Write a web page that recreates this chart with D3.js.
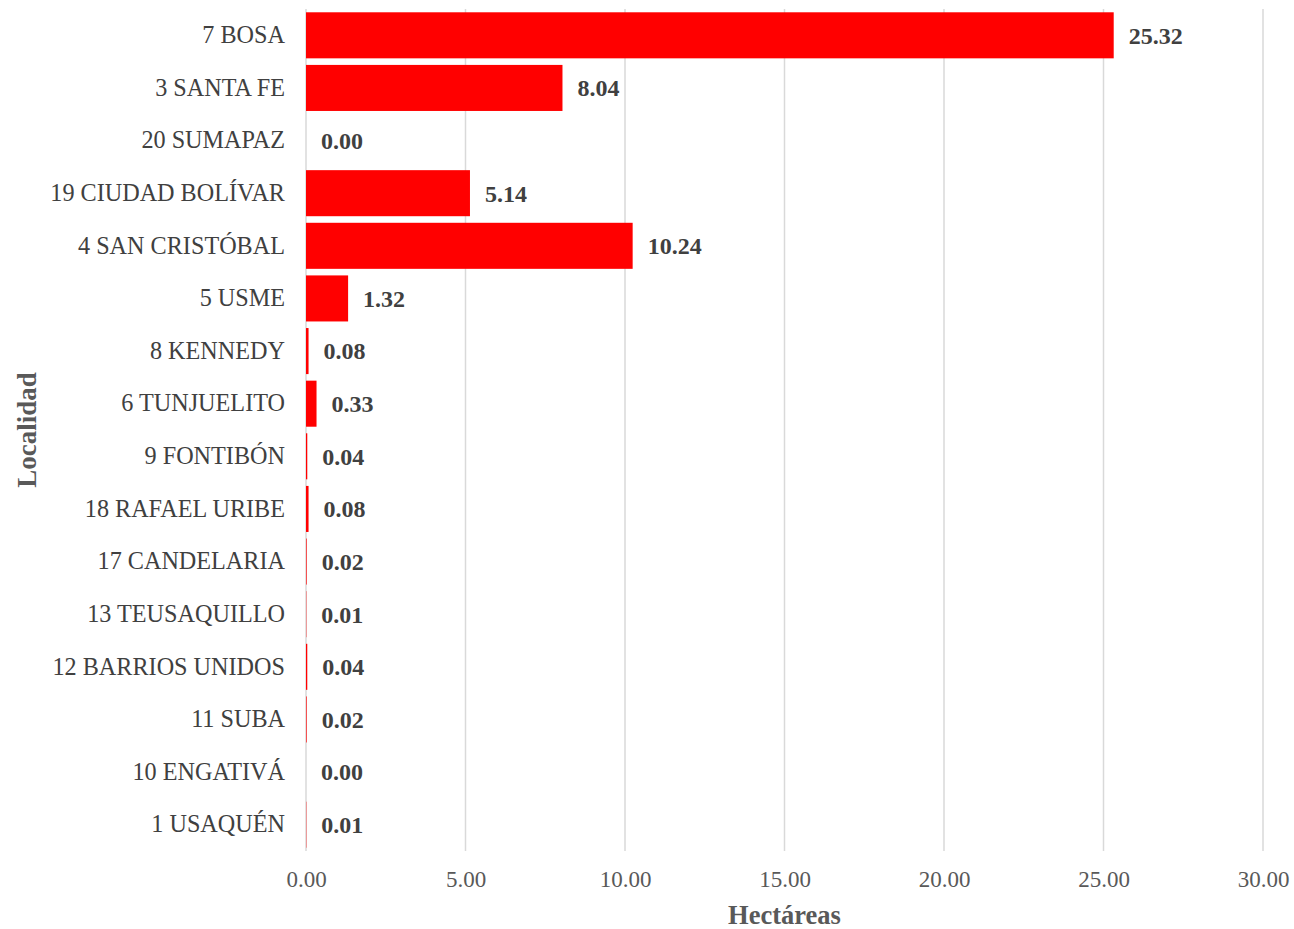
<!DOCTYPE html>
<html>
<head>
<meta charset="utf-8">
<script src="https://cdn.jsdelivr.net/npm/d3@7"></script>
<style>
  html, body { margin: 0; padding: 0; background: #fff; }
  svg { display: block; font-family: "Liberation Serif", "Times New Roman", serif; }
</style>
</head>
<body>
<svg id="chart" width="1294" height="929"></svg>
<script>
// Localities (top to bottom) and their area in hectares
const localidades = [
  "7 BOSA", "3 SANTA FE", "20 SUMAPAZ", "19 CIUDAD BOLÍVAR", "4 SAN CRISTÓBAL",
  "5 USME", "8 KENNEDY", "6 TUNJUELITO", "9 FONTIBÓN", "18 RAFAEL URIBE",
  "17 CANDELARIA", "13 TEUSAQUILLO", "12 BARRIOS UNIDOS", "11 SUBA",
  "10 ENGATIVÁ", "1 USAQUÉN"
];
const hectareas = [
  25.32, 8.04, 0.00, 5.14, 10.24,
  1.32, 0.08, 0.33, 0.04, 0.08,
  0.02, 0.01, 0.04, 0.02,
  0.00, 0.01
];
const xTicks = [0, 5, 10, 15, 20, 25, 30];

const svg = d3.select("#chart");
const plotLeft = 306, plotRight = 1263, plotTop = 9, plotBottom = 851;
const serif = "Liberation Serif, Times New Roman, serif";

const x = d3.scaleLinear().domain([0, 30]).range([plotLeft, plotRight]);
const y = d3.scaleBand().domain(localidades).range([plotTop, plotBottom])
  .paddingInner(0.125).paddingOuter(0.0625);

// Vertical gridlines
svg.append("g")
  .selectAll("line")
  .data(xTicks)
  .join("line")
  .attr("x1", d => x(d)).attr("x2", d => x(d))
  .attr("y1", plotTop).attr("y2", plotBottom)
  .attr("stroke", "#d9d9d9")
  .attr("stroke-width", 1.5);

// Bars
svg.append("g")
  .selectAll("rect")
  .data(localidades)
  .join("rect")
  .attr("x", x(0))
  .attr("y", d => y(d))
  .attr("width", (d, i) => x(hectareas[i]) - x(0))
  .attr("height", y.bandwidth())
  .attr("fill", "#ff0000");

// Value labels
svg.append("g")
  .selectAll("text")
  .data(localidades)
  .join("text")
  .attr("x", (d, i) => x(hectareas[i]) + 15)
  .attr("y", d => y(d) + y.bandwidth() / 2)
  .attr("dy", "0.35em")
  .attr("font-size", 24)
  .attr("font-weight", "bold")
  .attr("fill", "#404040")
  .text((d, i) => hectareas[i].toFixed(2));

// Category axis
const yAxis = svg.append("g")
  .attr("transform", `translate(${plotLeft},0)`)
  .call(d3.axisLeft(y).tickSize(0).tickPadding(21));
yAxis.select(".domain").remove();
yAxis.selectAll("text")
  .attr("font-family", serif)
  .attr("font-size", 24.2)
  .attr("fill", "#404040");

// Value axis
const xAxis = svg.append("g")
  .attr("transform", `translate(0,${plotBottom})`)
  .call(d3.axisBottom(x).tickValues(xTicks).tickFormat(d3.format(".2f")).tickSize(0).tickPadding(20));
xAxis.select(".domain").remove();
xAxis.selectAll("text")
  .attr("font-family", serif)
  .attr("font-size", 23)
  .attr("fill", "#595959");

// Axis titles
svg.append("text")
  .attr("x", (plotLeft + plotRight) / 2)
  .attr("y", 924)
  .attr("text-anchor", "middle")
  .attr("font-size", 26.5)
  .attr("font-weight", "bold")
  .attr("fill", "#595959")
  .text("Hectáreas");

svg.append("text")
  .attr("transform", `translate(36,${(plotTop + plotBottom) / 2}) rotate(-90)`)
  .attr("text-anchor", "middle")
  .attr("font-size", 27)
  .attr("font-weight", "bold")
  .attr("fill", "#595959")
  .text("Localidad");
</script>
</body>
</html>
